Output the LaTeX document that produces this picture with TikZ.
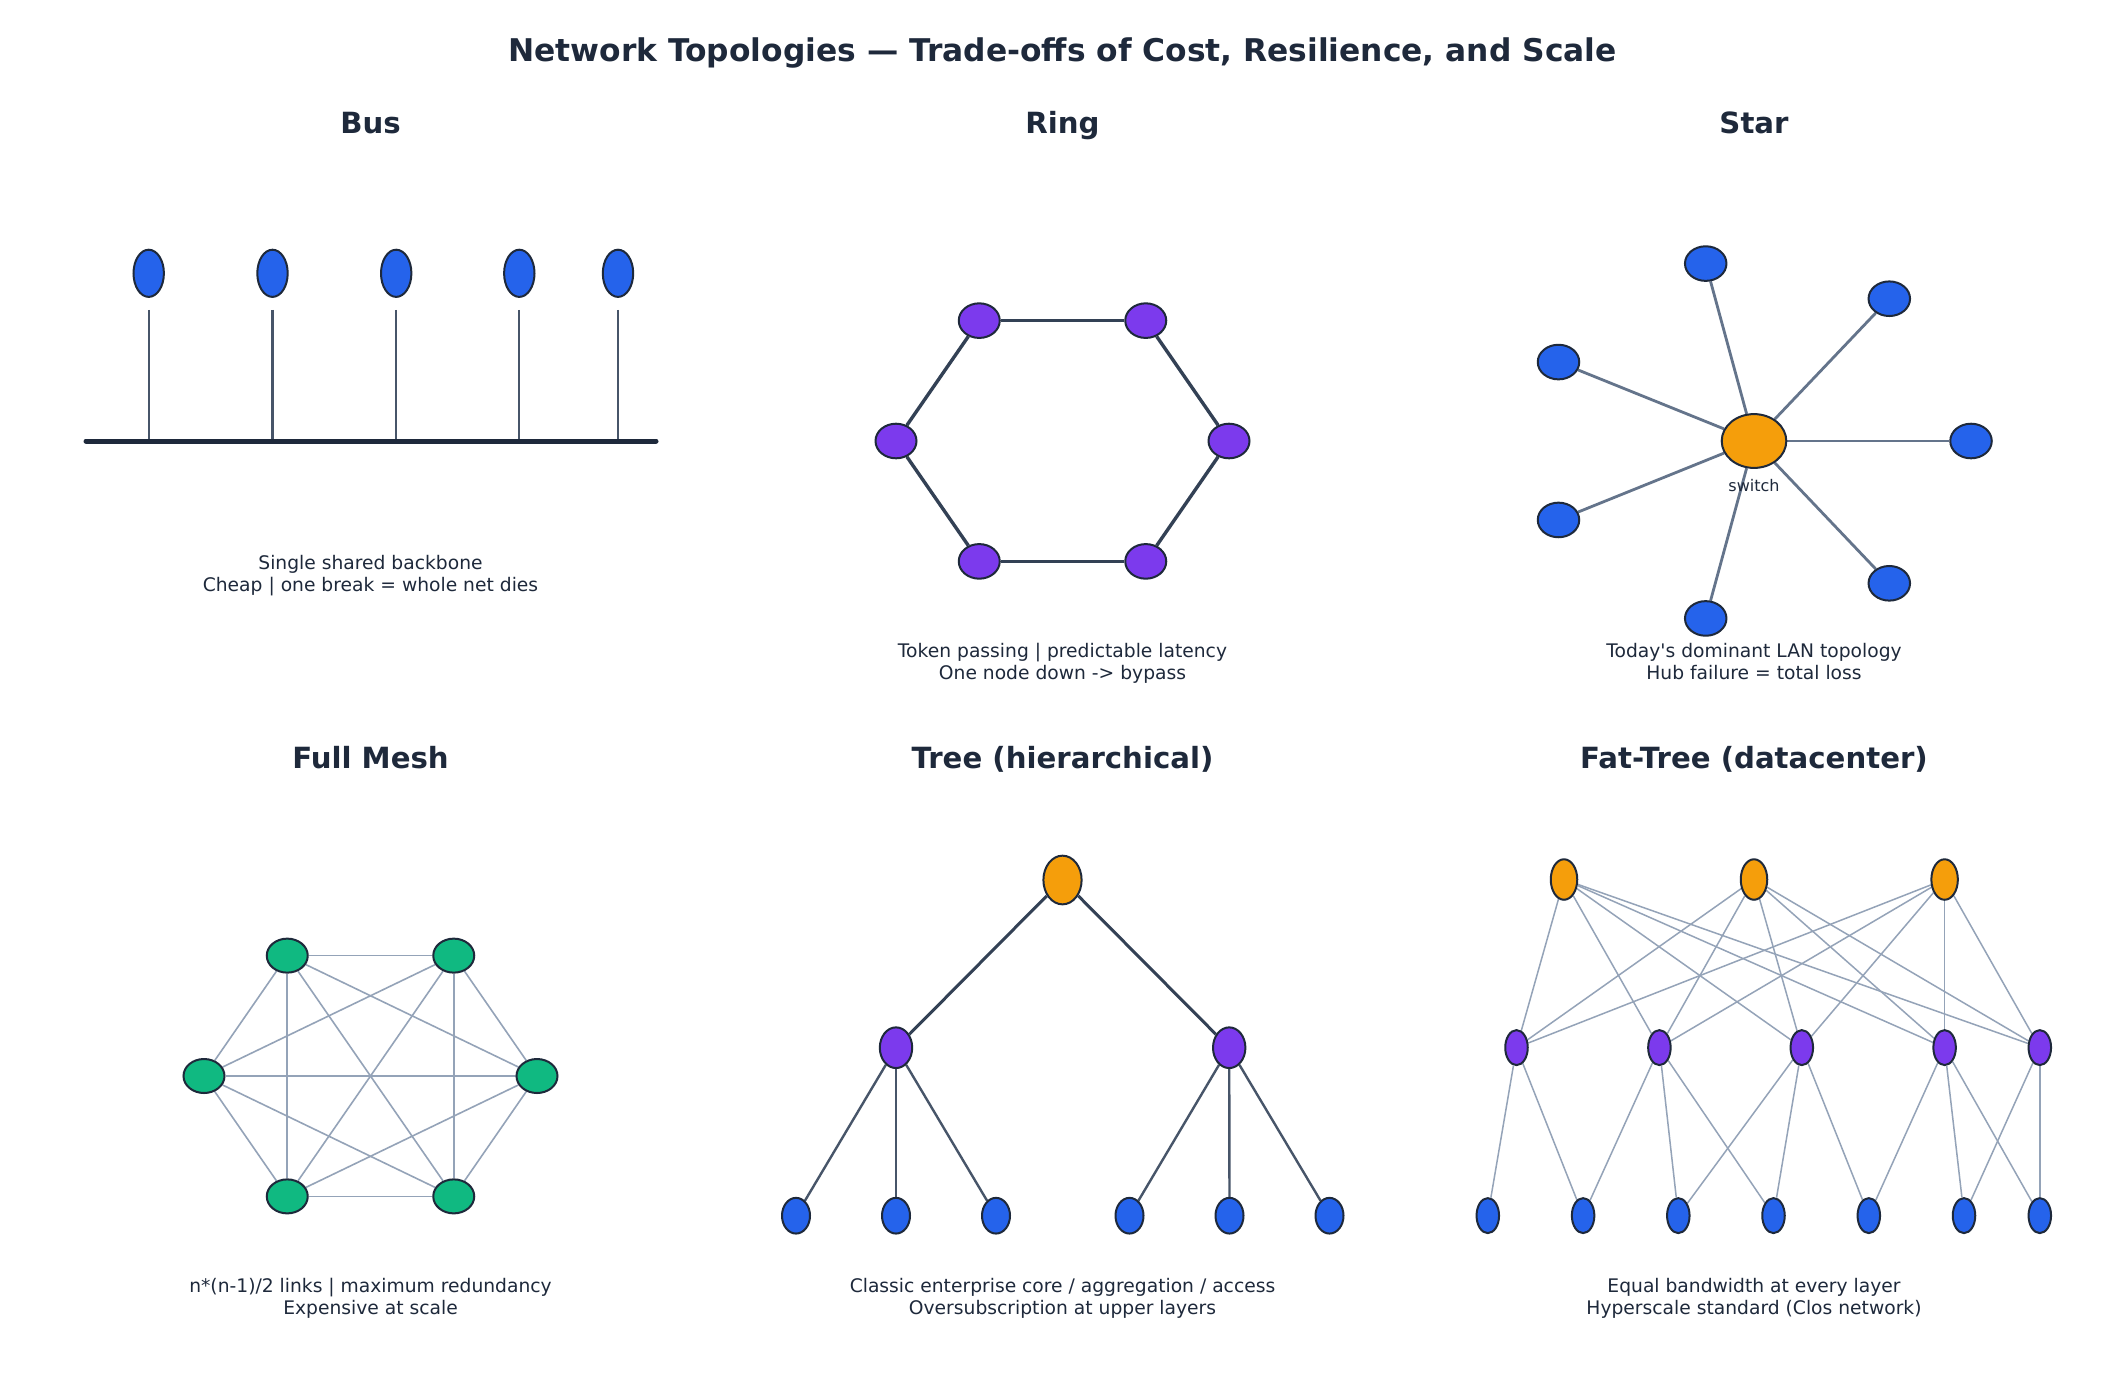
\documentclass[tikz,border=0pt]{standalone}
\usepackage{fontspec}
\setmainfont{DejaVu Sans}[Ligatures=TeXOff]
\usetikzlibrary{shapes.geometric,backgrounds}
\definecolor{inkDark}{HTML}{1E293B}
\definecolor{edgeDark}{HTML}{334155}
\definecolor{edgeMid}{HTML}{475569}
\definecolor{edgeStar}{HTML}{64748B}
\definecolor{edgeLight}{HTML}{94A3B8}
\definecolor{hostBlue}{HTML}{2563EB}
\definecolor{switchPurple}{HTML}{7C3AED}
\definecolor{coreOrange}{HTML}{F59E0B}
\definecolor{peerGreen}{HTML}{10B981}
\newcommand{\figWidth}{2125}
\newcommand{\figHeight}{1393}
\newcommand{\ringCx}{1062.5}
\newcommand{\ringCy}{441}
\newcommand{\meshCx}{370.5}
\newcommand{\meshCy}{1076}
\newcommand{\hexRx}{166.5}
\newcommand{\hexRy}{139}
\newcommand{\starCx}{1754}
\newcommand{\starCy}{441}
\newcommand{\starRx}{217}
\newcommand{\starRy}{182}

\begin{document}
\begin{tikzpicture}[x=0.5pt, y=-0.5pt,
    device/.style={ellipse, draw=inkDark, line width=1pt, inner sep=0pt, minimum size=0pt},
    dims/.style 2 args={minimum width=#1, minimum height=#2},
    host/.style={device, fill=hostBlue},
    switchNode/.style={device, fill=switchPurple},
    core/.style={device, fill=coreOrange},
    peer/.style={device, fill=peerGreen},
    mainTitle/.style={font=\fontsize{15.65}{18}\selectfont\bfseries, text=inkDark, anchor=base},
    panelTitle/.style={font=\fontsize{14.6}{17}\selectfont\bfseries, text=inkDark, anchor=base},
    caption/.style={font=\fontsize{9.35}{11}\selectfont, text=inkDark, align=center, inner sep=0pt},
    busLine/.style={draw=inkDark, line width=2.5pt, line cap=round},
    busDrop/.style={draw=edgeMid, line width=1.1pt},
    ringLink/.style={draw=edgeDark, line width=1.7pt},
    starLink/.style={draw=edgeStar, line width=1.4pt},
    meshLink/.style={draw=edgeLight, line width=0.8pt},
    treeUp/.style={draw=edgeDark, line width=1.5pt},
    treeDown/.style={draw=edgeMid, line width=1.2pt},
    fatLink/.style={draw=edgeLight, line width=0.75pt}]
\useasboundingbox (0,0) rectangle (\figWidth,\figHeight);
\begin{scope}[on background layer]
  \fill[white] (0,0) rectangle (\figWidth,\figHeight);
\end{scope}

\node[mainTitle] (title) at (1062.5,61) {Network Topologies — Trade-offs of Cost, Resilience, and Scale};

% Bus
\node[panelTitle] (busTitle) at (370.5,133.3) {Bus};
\node[host, dims={15.2pt}{23.6pt}] (busA) at (148.7,273.3) {};
\node[host, dims={15.2pt}{23.6pt}] (busB) at (272.5,273.3) {};
\node[host, dims={15.2pt}{23.6pt}] (busC) at (396.2,273.3) {};
\node[host, dims={15.2pt}{23.6pt}] (busD) at (519.3,273.3) {};
\node[host, dims={15.2pt}{23.6pt}] (busE) at (618,273.3) {};
\coordinate (busLeft) at (86,441);
\coordinate (busRight) at (656,441);
\draw[busDrop] ([yshift=-6pt]busA.south) -- (busA |- busLeft);
\draw[busDrop] ([yshift=-6pt]busB.south) -- (busB |- busLeft);
\draw[busDrop] ([yshift=-6pt]busC.south) -- (busC |- busLeft);
\draw[busDrop] ([yshift=-6pt]busD.south) -- (busD |- busLeft);
\draw[busDrop] ([yshift=-6pt]busE.south) -- (busE |- busLeft);
\draw[busLine] (busLeft) -- (busRight);
\node[caption] (busText) at (370.5,575.6) {Single shared backbone\\Cheap | one break = whole net dies};

% Ring
\node[panelTitle] (ringTitle) at (1062.5,133.3) {Ring};
\node[switchNode, dims={20.5pt}{17.3pt}] (ringA) at ({\ringCx+\hexRx}, \ringCy) {};
\node[switchNode, dims={20.5pt}{17.3pt}] (ringB) at ({\ringCx+\hexRx*cos(60)}, {\ringCy-\hexRy*sin(60)}) {};
\node[switchNode, dims={20.5pt}{17.3pt}] (ringC) at ({\ringCx-\hexRx*cos(60)}, {\ringCy-\hexRy*sin(60)}) {};
\node[switchNode, dims={20.5pt}{17.3pt}] (ringD) at ({\ringCx-\hexRx}, \ringCy) {};
\node[switchNode, dims={20.5pt}{17.3pt}] (ringE) at ({\ringCx-\hexRx*cos(60)}, {\ringCy+\hexRy*sin(60)}) {};
\node[switchNode, dims={20.5pt}{17.3pt}] (ringF) at ({\ringCx+\hexRx*cos(60)}, {\ringCy+\hexRy*sin(60)}) {};
\begin{scope}[on background layer]
\draw[ringLink] (ringA) -- (ringB);
\draw[ringLink] (ringB) -- (ringC);
\draw[ringLink] (ringC) -- (ringD);
\draw[ringLink] (ringD) -- (ringE);
\draw[ringLink] (ringE) -- (ringF);
\draw[ringLink] (ringF) -- (ringA);
\end{scope}
\node[caption] (ringText) at (1062.5,663.6) {Token passing | predictable latency\\One node down -> bypass};

% Star
\node[panelTitle] (starTitle) at (1754,133.3) {Star};
\node[core, dims={32.3pt}{26.9pt}] (hub) at (\starCx,\starCy) {};
\node[font=\fontsize{8}{9}\selectfont, text=inkDark, anchor=base] (hubLabel) at (\starCx,491) {switch};
\node[host, dims={20.75pt}{17.3pt}] (leafA) at ({\starCx+\starRx*cos(0)}, {\starCy-\starRy*sin(0)}) {};
\node[host, dims={20.75pt}{17.3pt}] (leafB) at ({\starCx+\starRx*cos(51.43)}, {\starCy-\starRy*sin(51.43)}) {};
\node[host, dims={20.75pt}{17.3pt}] (leafC) at ({\starCx+\starRx*cos(102.86)}, {\starCy-\starRy*sin(102.86)}) {};
\node[host, dims={20.75pt}{17.3pt}] (leafD) at ({\starCx+\starRx*cos(154.29)}, {\starCy-\starRy*sin(154.29)}) {};
\node[host, dims={20.75pt}{17.3pt}] (leafE) at ({\starCx+\starRx*cos(205.71)}, {\starCy-\starRy*sin(205.71)}) {};
\node[host, dims={20.75pt}{17.3pt}] (leafF) at ({\starCx+\starRx*cos(257.14)}, {\starCy-\starRy*sin(257.14)}) {};
\node[host, dims={20.75pt}{17.3pt}] (leafG) at ({\starCx+\starRx*cos(308.57)}, {\starCy-\starRy*sin(308.57)}) {};
\begin{scope}[on background layer]
\draw[starLink] (hub) -- (leafA);
\draw[starLink] (hub) -- (leafB);
\draw[starLink] (hub) -- (leafC);
\draw[starLink] (hub) -- (leafD);
\draw[starLink] (hub) -- (leafE);
\draw[starLink] (hub) -- (leafF);
\draw[starLink] (hub) -- (leafG);
\end{scope}
\node[caption] (starText) at (1754,661.65) {Today's dominant LAN topology\\Hub failure = total loss};

% Full mesh
\node[panelTitle] (meshTitle) at (370.5,768.5) {Full Mesh};
\node[peer, dims={20.5pt}{17pt}] (meshA) at ({\meshCx+\hexRx}, \meshCy) {};
\node[peer, dims={20.5pt}{17pt}] (meshB) at ({\meshCx+\hexRx*cos(60)}, {\meshCy-\hexRy*sin(60)}) {};
\node[peer, dims={20.5pt}{17pt}] (meshC) at ({\meshCx-\hexRx*cos(60)}, {\meshCy-\hexRy*sin(60)}) {};
\node[peer, dims={20.5pt}{17pt}] (meshD) at ({\meshCx-\hexRx}, \meshCy) {};
\node[peer, dims={20.5pt}{17pt}] (meshE) at ({\meshCx-\hexRx*cos(60)}, {\meshCy+\hexRy*sin(60)}) {};
\node[peer, dims={20.5pt}{17pt}] (meshF) at ({\meshCx+\hexRx*cos(60)}, {\meshCy+\hexRy*sin(60)}) {};
\begin{scope}[on background layer]
\draw[meshLink] (meshA) -- (meshB);
\draw[meshLink] (meshA) -- (meshC);
\draw[meshLink] (meshA) -- (meshD);
\draw[meshLink] (meshA) -- (meshE);
\draw[meshLink] (meshA) -- (meshF);
\draw[meshLink] (meshB) -- (meshC);
\draw[meshLink] (meshB) -- (meshD);
\draw[meshLink] (meshB) -- (meshE);
\draw[meshLink] (meshB) -- (meshF);
\draw[meshLink] (meshC) -- (meshD);
\draw[meshLink] (meshC) -- (meshE);
\draw[meshLink] (meshC) -- (meshF);
\draw[meshLink] (meshD) -- (meshE);
\draw[meshLink] (meshD) -- (meshF);
\draw[meshLink] (meshE) -- (meshF);
\end{scope}
\node[caption] (meshText) at (370.5,1297.85) {n*(n-1)/2 links | maximum redundancy\\Expensive at scale};

% Tree
\node[panelTitle] (treeTitle) at (1062.5,768.5) {Tree (hierarchical)};
\node[core, dims={19.1pt}{24.35pt}] (treeRoot) at (1062.5,880) {};
\node[switchNode, dims={16.2pt}{20.35pt}] (treeAggA) at (896,1047.7) {};
\node[switchNode, dims={16.2pt}{20.35pt}] (treeAggB) at (1229.2,1047.7) {};
\node[host, dims={14pt}{17.85pt}] (treeHostA) at (796,1215.7) {};
\node[host, dims={14pt}{17.85pt}] (treeHostB) at (896,1215.7) {};
\node[host, dims={14pt}{17.85pt}] (treeHostC) at (996,1215.7) {};
\node[host, dims={14pt}{17.85pt}] (treeHostD) at (1129.5,1215.7) {};
\node[host, dims={14pt}{17.85pt}] (treeHostE) at (1229.5,1215.7) {};
\node[host, dims={14pt}{17.85pt}] (treeHostF) at (1329.5,1215.7) {};
\begin{scope}[on background layer]
\draw[treeUp] (treeRoot) -- (treeAggA);
\draw[treeUp] (treeRoot) -- (treeAggB);
\draw[treeDown] (treeAggA) -- (treeHostA);
\draw[treeDown] (treeAggA) -- (treeHostB);
\draw[treeDown] (treeAggA) -- (treeHostC);
\draw[treeDown] (treeAggB) -- (treeHostD);
\draw[treeDown] (treeAggB) -- (treeHostE);
\draw[treeDown] (treeAggB) -- (treeHostF);
\end{scope}
\node[caption] (treeText) at (1062.5,1297.85) {Classic enterprise core / aggregation / access\\Oversubscription at upper layers};

% Fat-tree
\node[panelTitle] (fatTitle) at (1754,768.5) {Fat-Tree (datacenter)};
\node[core, dims={13.25pt}{20.25pt}] (fatTopA) at (1564,879.5) {};
\node[core, dims={13.25pt}{20.25pt}] (fatTopB) at (1754,879.5) {};
\node[core, dims={13.25pt}{20.25pt}] (fatTopC) at (1944.6,879.5) {};
\node[switchNode, dims={11.25pt}{17.5pt}] (fatMidA) at (1516.5,1047.6) {};
\node[switchNode, dims={11.25pt}{17.5pt}] (fatMidB) at (1659.4,1047.6) {};
\node[switchNode, dims={11.25pt}{17.5pt}] (fatMidC) at (1801.8,1047.6) {};
\node[switchNode, dims={11.25pt}{17.5pt}] (fatMidD) at (1944.6,1047.6) {};
\node[switchNode, dims={11.25pt}{17.5pt}] (fatMidE) at (2039.8,1047.6) {};
\node[host, dims={11.25pt}{17.5pt}] (fatHostA) at (1487.8,1215.6) {};
\node[host, dims={11.25pt}{17.5pt}] (fatHostB) at (1583.1,1215.6) {};
\node[host, dims={11.25pt}{17.5pt}] (fatHostC) at (1678.3,1215.6) {};
\node[host, dims={11.25pt}{17.5pt}] (fatHostD) at (1773.5,1215.6) {};
\node[host, dims={11.25pt}{17.5pt}] (fatHostE) at (1868.8,1215.6) {};
\node[host, dims={11.25pt}{17.5pt}] (fatHostF) at (1964,1215.6) {};
\node[host, dims={11.25pt}{17.5pt}] (fatHostG) at (2039.8,1215.6) {};
\begin{scope}[on background layer]
\draw[fatLink] (fatTopA) -- (fatMidA);
\draw[fatLink] (fatTopA) -- (fatMidB);
\draw[fatLink] (fatTopA) -- (fatMidC);
\draw[fatLink] (fatTopA) -- (fatMidD);
\draw[fatLink] (fatTopA) -- (fatMidE);
\draw[fatLink] (fatTopB) -- (fatMidA);
\draw[fatLink] (fatTopB) -- (fatMidB);
\draw[fatLink] (fatTopB) -- (fatMidC);
\draw[fatLink] (fatTopB) -- (fatMidD);
\draw[fatLink] (fatTopB) -- (fatMidE);
\draw[fatLink] (fatTopC) -- (fatMidA);
\draw[fatLink] (fatTopC) -- (fatMidB);
\draw[fatLink] (fatTopC) -- (fatMidC);
\draw[fatLink] (fatTopC) -- (fatMidD);
\draw[fatLink] (fatTopC) -- (fatMidE);
\draw[fatLink] (fatMidA) -- (fatHostA);
\draw[fatLink] (fatMidA) -- (fatHostB);
\draw[fatLink] (fatMidB) -- (fatHostB);
\draw[fatLink] (fatMidB) -- (fatHostC);
\draw[fatLink] (fatMidB) -- (fatHostD);
\draw[fatLink] (fatMidC) -- (fatHostC);
\draw[fatLink] (fatMidC) -- (fatHostD);
\draw[fatLink] (fatMidC) -- (fatHostE);
\draw[fatLink] (fatMidD) -- (fatHostE);
\draw[fatLink] (fatMidD) -- (fatHostF);
\draw[fatLink] (fatMidD) -- (fatHostG);
\draw[fatLink] (fatMidE) -- (fatHostF);
\draw[fatLink] (fatMidE) -- (fatHostG);
\end{scope}
\node[caption] (fatText) at (1754,1297.85) {Equal bandwidth at every layer\\Hyperscale standard (Clos network)};
\end{tikzpicture}
\end{document}
